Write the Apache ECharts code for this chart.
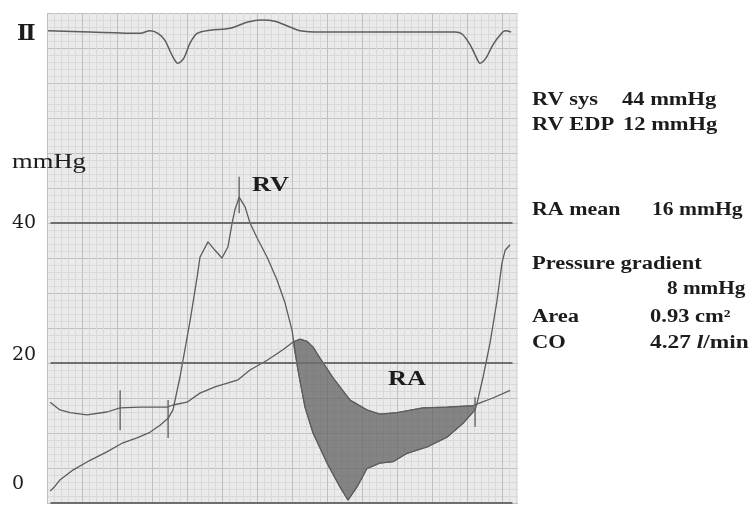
<!DOCTYPE html>
<html>
<head>
<meta charset="utf-8">
<script src="https://cdn.jsdelivr.net/npm/echarts@6/dist/echarts.min.js"></script>
<style>
  html, body { margin: 0; padding: 0; background: #fff; }
  #chart { width: 752px; height: 505px; }
</style>
</head>
<body>
<div id="chart"></div>
<script>
// time in ms (20 ms per small box), pressure in mmHg
const rvTime = [9, 23, 37, 74, 123, 171, 217, 257, 294, 323, 346, 360, 380, 409, 429, 437, 460, 480, 500, 517, 529, 537, 549, 566, 580, 600, 629, 657, 680, 700, 717, 737, 760, 800, 837, 860, 886, 914, 951, 989, 1029, 1086, 1143, 1189, 1223, 1229, 1246, 1266, 1286, 1300, 1309, 1323]
const rvPressure = [1.7, 2.4, 3.3, 4.7, 6.1, 7.3, 8.6, 9.3, 10.1, 11.1, 12.1, 13.3, 18.0, 26.1, 32.3, 35.1, 37.3, 36.1, 35.0, 36.6, 40.0, 41.9, 43.7, 42.3, 40.0, 37.9, 35.1, 31.9, 28.6, 24.7, 19.0, 13.7, 10.0, 5.7, 2.3, 0.4, 2.3, 4.9, 5.7, 5.9, 7.1, 8.0, 9.4, 11.4, 13.3, 14.3, 18.0, 22.9, 29.0, 34.3, 36.1, 36.9]

const raTime = [9, 37, 66, 114, 171, 209, 266, 343, 360, 400, 437, 480, 546, 580, 629, 674, 703, 723, 743, 760, 780, 817, 866, 914, 951, 1000, 1074, 1143, 1217, 1237, 1274, 1323]
const raPressure = [14.4, 13.3, 12.9, 12.6, 13.0, 13.6, 13.7, 13.7, 14.0, 14.4, 15.7, 16.6, 17.6, 19.0, 20.4, 21.9, 23.0, 23.4, 23.1, 22.3, 20.7, 17.9, 14.7, 13.3, 12.7, 12.9, 13.6, 13.7, 13.9, 14.3, 15.0, 16.1]

// ECG lead II, mV
const ecgTime = [3, 123, 266, 294, 317, 337, 357, 374, 391, 409, 429, 466, 523, 574, 614, 651, 694, 723, 780, 1166, 1186, 1209, 1226, 1237, 1254, 1274, 1294, 1309, 1326]
const ecgVoltage = [0.02, 0, -0.02, 0.02, -0.02, -0.13, -0.36, -0.49, -0.41, -0.17, -0.02, 0.03, 0.06, 0.16, 0.19, 0.17, 0.08, 0.02, 0, 0, -0.03, -0.2, -0.39, -0.49, -0.41, -0.2, -0.05, 0.02, 0]

// diastolic filling period (RA above RV)
const diastoleStart = 703
const diastoleEnd = 1223

// timing marks on the tracing
const markerTime = [209, 346, 549, 1223]
const markerLow = [10.4, 9.3, 41.4, 10.9]
const markerHigh = [16.1, 14.7, 46.6, 15.1]

const refLevels = [0, 20, 40]
const yTickLabels = [0, 20, 40]

const pairs = (xs, ys) => xs.map((x, i) => [x, ys[i]])

const rvData = pairs(rvTime, rvPressure)
const raData = pairs(raTime, raPressure)
const ecgData = pairs(ecgTime, ecgVoltage)
const markerData = markerTime.map((t, i) => [t, markerLow[i], markerHigh[i]])

// gradient area = RA on top, RV back underneath
const shadeData = raData.filter(p => p[0] >= diastoleStart && p[0] <= diastoleEnd - 6)
    .concat(rvData.filter(p => p[0] > diastoleStart + 10 && p[0] <= diastoleEnd).reverse())

const serif = '"Liberation Serif", "Times New Roman", serif'
const ink = '#1c1c1c'
const traceColor = '#5c5c5c'

// label lift above its tick (px), as on the original print
const labelRich = {
    a: { padding: [0, 0, 0, 0] },
    b: { padding: [0, 0, 16, 0] },
    c: { padding: [0, 0, 38, 0] }
}

function txt(x, y, text, size, bold, extra) {
    return Object.assign({
        type: 'text',
        x: x,
        y: y,
        scaleX: 1.25,
        z: 100,
        style: {
            text: text,
            font: (bold ? 'bold ' : '') + size + 'px ' + serif,
            fill: ink,
            verticalAlign: 'middle'
        }
    }, extra || {})
}

const chart = echarts.init(document.getElementById('chart'))

const option = {
    backgroundColor: '#fff',
    animation: false,
    grid: [
        { left: 47, top: 13, width: 490, height: 490, show: true, backgroundColor: '#eaeaea', borderWidth: 0, outerBoundsMode: 'none' },
        { left: 47, top: 13, width: 490, height: 70, show: false, outerBoundsMode: 'none' }
    ],
    xAxis: [
        {
            type: 'value', gridIndex: 0, min: 0, max: 1400, interval: 100,
            axisLine: { show: false }, axisTick: { show: false }, axisLabel: { show: false },
            splitLine: { show: true, lineStyle: { color: '#c0c0c0', width: 1 } },
            minorTick: { show: false, splitNumber: 5 },
            minorSplitLine: { show: true, lineStyle: { color: '#d9d9d9', width: 1 } }
        },
        {
            type: 'value', gridIndex: 1, min: 0, max: 1400, show: false
        }
    ],
    yAxis: [
        {
            type: 'value', gridIndex: 0, min: 0, max: 70, interval: 5,
            axisLine: { show: false }, axisTick: { show: false },
            axisLabel: {
                show: true, align: 'left', margin: 35,
                fontFamily: '"DejaVu Serif", serif', fontSize: 19, color: ink,
                formatter: v => {
                    const i = yTickLabels.indexOf(v)
                    if (i < 0) return ''
                    return '{' + ['c', 'b', 'a'][i] + '|' + v + '}'
                },
                rich: labelRich
            },
            splitLine: { show: true, lineStyle: { color: '#c0c0c0', width: 1 } },
            minorTick: { show: false, splitNumber: 5 },
            minorSplitLine: { show: true, lineStyle: { color: '#d9d9d9', width: 1 } }
        },
        {
            type: 'value', gridIndex: 1, min: -0.8, max: 0.3, show: false
        }
    ],
    graphic: [
        // hide the grid past the right edge of the paper strip
        { type: 'rect', z: 1, shape: { x: 518, y: 0, width: 240, height: 505 }, style: { fill: '#fff' } },
        { type: 'text', x: 17, y: 34, z: 100, style: { text: 'Ⅱ', font: 'bold 22px "DejaVu Serif", serif', fill: ink, verticalAlign: 'middle' } },
        txt(12, 163, 'mmHg', 20, false, { scaleX: 1.33 }),
        txt(252, 186, 'RV', 21, true),
        txt(388, 380, 'RA', 21, true),
        txt(532, 100, 'RV sys', 18, true),
        txt(622, 100, '44 mmHg', 18, true),
        txt(532, 125, 'RV EDP', 18, true),
        txt(623, 125, '12 mmHg', 18, true),
        txt(532, 210, 'RA mean', 18, true, { scaleX: 1.22 }),
        txt(652, 210, '16 mmHg', 18, true, { scaleX: 1.2 }),
        txt(532, 264, 'Pressure gradient', 18, true),
        txt(667, 289, '8 mmHg', 18, true, { scaleX: 1.18 }),
        txt(532, 317, 'Area', 18, true),
        txt(650, 317, '0.93 cm²', 18, true),
        txt(532, 343, 'CO', 18, true),
        {
            type: 'text', x: 650, y: 343, scaleX: 1.3, z: 100,
            style: {
                text: '4.27 {i|l}/min',
                font: 'bold 18px ' + serif,
                fill: ink,
                verticalAlign: 'middle',
                rich: { i: { fontStyle: 'italic', fontWeight: 'bold', fontSize: 18, fontFamily: serif, fill: ink } }
            }
        }
    ],
    series: [
        {
            type: 'custom',
            name: 'gradient',
            xAxisIndex: 0, yAxisIndex: 0,
            z: 2,
            silent: true,
            data: [[diastoleStart, 20]],
            renderItem: (params, api) => ({
                type: 'polygon',
                shape: { points: shadeData.map(p => api.coord(p)) },
                style: { fill: 'rgba(96,96,96,0.74)', stroke: '#6a6a6a', lineWidth: 1 }
            })
        },
        {
            type: 'line',
            name: 'RV',
            xAxisIndex: 0, yAxisIndex: 0,
            z: 3,
            data: rvData,
            showSymbol: false,
            lineStyle: { color: traceColor, width: 1.3 },
            markLine: {
                silent: true,
                symbol: 'none',
                label: { show: false },
                lineStyle: { color: '#6e6e6e', width: 2, type: 'solid' },
                data: refLevels.map(v => [{ coord: [10, v] }, { coord: [1330, v] }])
            }
        },
        {
            type: 'line',
            name: 'RA',
            xAxisIndex: 0, yAxisIndex: 0,
            z: 3,
            data: raData,
            showSymbol: false,
            lineStyle: { color: traceColor, width: 1.3 }
        },
        {
            type: 'custom',
            name: 'marks',
            xAxisIndex: 0, yAxisIndex: 0,
            z: 3,
            silent: true,
            encode: { x: 0, y: [1, 2] },
            data: markerData,
            renderItem: (params, api) => {
                const a = api.coord([api.value(0), api.value(1)])
                const b = api.coord([api.value(0), api.value(2)])
                return {
                    type: 'line',
                    shape: { x1: a[0], y1: a[1], x2: b[0], y2: b[1] },
                    style: { stroke: traceColor, lineWidth: 1.3 }
                }
            }
        },
        {
            type: 'line',
            name: 'ECG II',
            xAxisIndex: 1, yAxisIndex: 1,
            z: 3,
            data: ecgData,
            smooth: 0.3,
            showSymbol: false,
            lineStyle: { color: traceColor, width: 1.5 }
        }
    ]
}

chart.setOption(option)
</script>
</body>
</html>
